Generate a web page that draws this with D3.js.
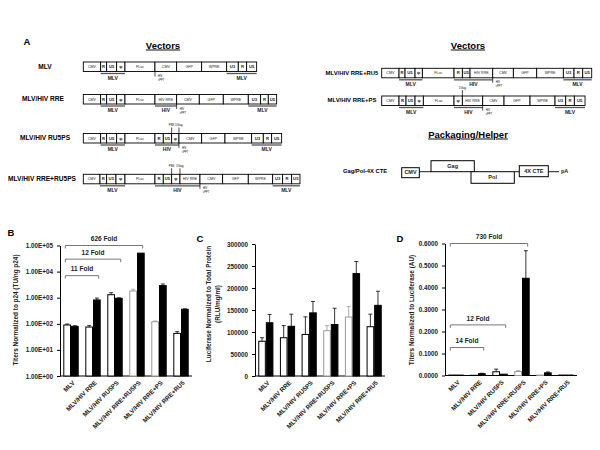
<!DOCTYPE html>
<html><head><meta charset="utf-8">
<script src="https://cdn.jsdelivr.net/npm/d3@7"></script>
<style>body{margin:0;background:#fff}svg{display:block}text{font-family:"Liberation Sans",Arial,sans-serif}</style>
</head><body>
<svg id="c" width="600" height="450"></svg>
<script>
// ---------- DATA ----------
const categories = ["MLV","MLV/HIV RRE","MLV/HIV RU5PS","MLV/HIV RRE+RU5PS","MLV/HIV RRE+PS","MLV/HIV RRE+RU5"];
// Panel B: titers normalized to p24 (log)
const bOpen     = [90, 75, 1300, 1800, 120, 43];
const bOpenErr  = [8, 10, 250, 300, 8, 7];
const bBlack    = [80, 820, 950, 51000, 2900, 360];
const bBlackErr = [4, 150, 40, 0, 450, 15];
const bTicks    = [1, 10, 100, 1000, 10000, 100000];
const bTickLabels = ["1.00E+00","1.00E+01","1.00E+02","1.00E+03","1.00E+04","1.00E+05"];
// Panel C: luciferase normalized to total protein
const cOpen     = [79000, 87000, 94500, 103000, 134000, 112000];
const cOpenErr  = [8000, 27500, 40000, 11500, 24000, 28500];
const cBlack    = [121000, 113000, 143500, 117000, 232700, 160600];
const cBlackErr = [19000, 27500, 26000, 37000, 27500, 32000];
const cTicks    = [0, 50000, 100000, 150000, 200000, 250000, 300000];
// Panel D: titers normalized to luciferase
const dOpen     = [0.002, 0.001, 0.017, 0.018, 0.002, 0.002];
const dOpenErr  = [0, 0, 0.012, 0.004, 0, 0];
const dBlack    = [0.002, 0.008, 0.006, 0.442, 0.012, 0.002];
const dBlackErr = [0, 0.002, 0, 0.125, 0.004, 0];
const dTicks    = [0, 0.1, 0.2, 0.3, 0.4, 0.5, 0.6];
// Fold brackets: [label, fromCategory, toCategory, value level]
const bFolds = [["626 Fold",0,3,100000],["12 Fold",0,2,30000],["11 Fold",0,1,7000]];
const dFolds = [["730 Fold",0,3,0.6],["12 Fold",0,2,0.23],["14 Fold",0,1,0.127]];

// Vector diagrams: segments [name, length units]
const vecMLV = [["CMV",52],["R",18],["U5",30],["ψ",25],["FLuc",90],["CMV",65],["GFP",75],["WPRE",75],["U3",35],["R",25],["U5",30]];
const vecRRE = [["CMV",52],["R",18],["U5",30],["ψ",25],["FLuc",90],["HIV RRE",65],["CMV",68],["GFP",72],["WPRE",75],["U3",37],["R",23],["U5",25]];
const vecRU5PS = [["CMV",52],["R",18],["U5",30],["ψ",25],["FLuc",90],["R",25],["U5",25],["ψ",22],["CMV",68],["GFP",70],["WPRE",80],["U3",35],["R",25],["U5",30]];
const vecRRERU5PS = [["CMV",50],["R",20],["U5",28],["ψ",27],["FLuc",90],["R",25],["U5",25],["ψ",25],["HIV RRE",60],["CMV",68],["GFP",77],["WPRE",73],["U3",30],["R",27],["U5",25]];
const vecRRERU5 = [["CMV",52],["R",18],["U5",30],["ψ",22],["FLuc",95],["R",25],["U5",23],["HIV RRE",68],["CMV",62],["GFP",70],["WPRE",80],["U3",32],["R",26],["U5",27]];
const vecRREPS = [["CMV",52],["R",21],["U5",27],["ψ",25],["FLuc",92],["ψ",25],["HIV RRE",61],["CMV",64],["GFP",78],["WPRE",75],["U3",32],["R",26],["U5",32]];
const vectorNames = ["MLV","MLV/HIV RRE","MLV/HIV RU5PS","MLV/HIV RRE+RU5PS","MLV/HIV RRE+RU5","MLV/HIV RRE+PS"];

// ---------- DRAW ----------
const svg = d3.select("#c");
const F = '"Liberation Sans",Arial,sans-serif';

function txt(g, x, y, s, size, opts={}) {
  return g.append("text").attr("x", x).attr("y", y).text(s)
    .attr("font-size", size).attr("font-weight", opts.w || "bold")
    .attr("text-anchor", opts.a || "middle").attr("dominant-baseline", "middle")
    .attr("fill", opts.c || "#000");
}

// Panel A labels
txt(svg, 27, 42, "A", 9.5);
function title(x, y, s) {
  txt(svg, x, y, s, 9.5).attr("text-decoration", "underline");
}
title(163, 46, "Vectors");
title(468, 46, "Vectors");
title(468, 135, "Packaging/Helper");

const u = d3.scaleLinear().domain([0, 3]).range([0, 1]); // units -> px

function drawVector(segs, name, x0, yTop, labelX, labelSize, cfg) {
  const g = svg.append("g");
  const h = 9.5;
  txt(g, labelX, yTop + h/2, name, labelSize);
  const bounds = [0];
  segs.forEach(s => bounds.push(bounds[bounds.length-1] + s[1]));
  const X = i => x0 + u(bounds[i]);
  segs.forEach((s, i) => {
    g.append("rect").attr("x", X(i)).attr("y", yTop).attr("width", X(i+1)-X(i)).attr("height", h)
      .attr("fill", "#fff").attr("stroke", "#000").attr("stroke-width", 0.9);
    const short = s[0].length <= 2;
    txt(g, (X(i)+X(i+1))/2, yTop + h/2 + 0.3, s[0], short ? 4.2 : 3.6, {w: short ? "bold" : "normal", c: "#222"});
  });
  (cfg.under || []).forEach(([lab, a, b]) => {
    g.append("line").attr("x1", X(a)).attr("x2", X(b+1)).attr("y1", yTop+h+2).attr("y2", yTop+h+2)
      .attr("stroke", "#555").attr("stroke-width", 1.3);
    txt(g, (X(a)+X(b+1))/2, yTop+h+7, lab, 5, {c:"#222"});
  });
  if (cfg.cppt != null) {
    const cx = X(cfg.cppt);
    g.append("line").attr("x1", cx).attr("x2", cx).attr("y1", yTop+h).attr("y2", yTop+h+5).attr("stroke", "#000").attr("stroke-width", 0.7);
    txt(g, cx+3, yTop+h+5, "HIV", 2.6, {a:"start", w:"normal"});
    txt(g, cx+3, yTop+h+9, "cPPT", 2.6, {a:"start", w:"normal"});
  }
  (cfg.above || []).forEach(([lab, i]) => {
    const cx = X(i);
    g.append("line").attr("x1", cx).attr("x2", cx).attr("y1", yTop).attr("y2", yTop-6).attr("stroke", "#000").attr("stroke-width", 0.7);
    txt(g, cx, yTop-8, lab, 2.8, {w:"normal"});
  });
}
drawVector(vecMLV, vectorNames[0], 83.3, 62, 45, 6.6, {under:[["MLV",1,3],["MLV",8,10]], cppt:5});
drawVector(vecRRE, vectorNames[1], 83.3, 94.5, 43, 6.6, {under:[["MLV",1,3],["HIV",5,5],["MLV",9,11]], cppt:6});
drawVector(vecRU5PS, vectorNames[2], 83.3, 133.5, 45, 6.6, {under:[["MLV",1,3],["HIV",5,7],["MLV",11,13]], cppt:8, above:[["PBS",7],["5'Gag",8]]});
drawVector(vecRRERU5PS, vectorNames[3], 83.3, 174.3, 42, 6.6, {under:[["MLV",1,3],["HIV",5,8],["MLV",12,14]], cppt:9, above:[["PBS",7],["5'Gag",8]]});
drawVector(vecRRERU5, vectorNames[4], 381.7, 68.3, 352, 5.9, {under:[["MLV",1,3],["HIV",5,7],["MLV",11,13]], cppt:8});
drawVector(vecRREPS, vectorNames[5], 381.7, 96, 352, 5.9, {under:[["MLV",1,3],["HIV",5,6],["MLV",10,12]], cppt:7, above:[["5'Gag",6]]});

// Helper construct
(function(){
  const g = svg.append("g");
  const yc = 171.7;
  txt(g, 365, yc, "Gag/Pol-4X CTE", 5.8);
  const boxes = [["CMV",401.7,167.7,17.6,10,5.5],["Gag",431,160.7,43.3,11,5.5],["Pol",471,171.7,43.3,11.6,5.5],["4X CTE",519.3,165.7,29,11,5.5]];
  [[419.3,431],[514.3,519.3],[548.3,559]].forEach(([a,b]) =>
    g.append("line").attr("x1",a).attr("x2",b).attr("y1",yc).attr("y2",yc).attr("stroke","#000").attr("stroke-width",0.9));
  boxes.forEach(([s,x,y,w,h,fs]) => {
    g.append("rect").attr("x",x).attr("y",y).attr("width",w).attr("height",h).attr("fill","#fff").attr("stroke","#000").attr("stroke-width",1);
    txt(g, x+w/2, y+h/2+0.3, s, fs, {c:"#222"});
  });
  txt(g, 561, yc, "pA", 5.5, {a:"start", c:"#222"});
})();

// ---------- Bar panels ----------
function panel(opt) {
  const g = svg.append("g");
  const x0 = d3.scaleBand().domain(categories).range([opt.xl, opt.xr]).paddingInner(0.3).paddingOuter(0.15);
  const x1 = d3.scaleBand().domain(["open","black"]).range([0, x0.bandwidth()]);
  const y = opt.y;
  const base = y.range()[0];
  const ax = g.append("g").attr("transform", `translate(${opt.xl},0)`)
    .call(d3.axisLeft(y).tickValues(opt.ticks).tickFormat((d,i)=>opt.labels[i]).tickSize(3).tickSizeOuter(0));
  ax.select(".domain").attr("stroke","#000");
  ax.selectAll("text").attr("font-size", 6.3).attr("font-weight","bold").attr("font-family", F).attr("fill","#222").attr("dx", -1);
  ax.selectAll("line").attr("stroke","#000");
  g.append("line").attr("x1", opt.xl).attr("x2", opt.xr).attr("y1", base).attr("y2", base).attr("stroke","#000").attr("stroke-width",1);
  const series = [["open", opt.open, opt.openErr], ["black", opt.black, opt.blackErr]];
  series.forEach(([k, vals, errs]) => {
    categories.forEach((c, i) => {
      const bx = x0(c) + x1(k), bw = x1.bandwidth() - 0.5;
      const top = y(vals[i]);
      const grayEdge = k === "open" && (i === 3 || i === 4);
      const col = grayEdge ? "#999" : "#000";
      g.append("rect").attr("x", bx + 0.5).attr("y", top).attr("width", bw - 0.5).attr("height", Math.max(0, base - top))
        .attr("fill", k === "open" ? "#fff" : "#000").attr("stroke", col).attr("stroke-width", 1);
      if (errs[i] > 0) {
        const ey = y(vals[i] + errs[i]);
        const cx = bx + bw/2 + 0.25;
        g.append("line").attr("x1", cx).attr("x2", cx).attr("y1", top).attr("y2", ey).attr("stroke", col).attr("stroke-width", 0.8);
        g.append("line").attr("x1", cx-2).attr("x2", cx+2).attr("y1", ey).attr("y2", ey).attr("stroke", col).attr("stroke-width", 0.8);
      }
    });
  });
  categories.forEach(c => {
    const cx = x0(c) + x0.bandwidth()/2 + 3;
    g.append("text").attr("transform", `translate(${cx},${base+6}) rotate(-45)`)
      .attr("text-anchor","end").attr("dominant-baseline","middle")
      .attr("font-size", 6.3).attr("font-weight","bold").attr("font-family", F).attr("fill","#222").text(c);
  });
  (opt.folds || []).forEach(([lab, a, b, v]) => {
    const xa = x0(categories[a]) + 2, xb = x0(categories[b]) + x0.bandwidth() - 2;
    const yy = y(v);
    g.append("path").attr("d", `M${xa},${yy+3}V${yy}H${xb}V${yy+3}`).attr("fill","none").attr("stroke","#777").attr("stroke-width",1);
    txt(g, (xa+xb)/2, yy-6, lab, 6.5, {c: "#222"});
  });
  txt(g, opt.letter[1], opt.letter[2], opt.letter[0], 9.5);
  opt.ylab.forEach(([s, xx]) => {
    g.append("text").attr("transform", `translate(${xx},${opt.ylabY}) rotate(-90)`)
      .attr("text-anchor","middle").attr("dominant-baseline","middle")
      .attr("font-size", 6.4).attr("font-weight","bold").attr("font-family", F).attr("fill","#222").text(s);
  });
}

panel({xl:60, xr:192, y:d3.scaleLog().domain([1,100000]).range([376,245.5]),
  ticks:bTicks, labels:bTickLabels, open:bOpen, openErr:bOpenErr, black:bBlack, blackErr:bBlackErr,
  folds:bFolds, letter:["B",11,233], ylab:[["Titers Normalized to p24 (TU/ng p24)",16]], ylabY:310});
panel({xl:255, xr:385, y:d3.scaleLinear().domain([0,300000]).range([376,244]),
  ticks:cTicks, labels:cTicks.map(String), open:cOpen, openErr:cOpenErr, black:cBlack, blackErr:cBlackErr,
  letter:["C",200,239], ylab:[["Luciferase Normalized to Total Protein",209],["(RLU/mg/ml)",218]], ylabY:304});
panel({xl:445, xr:577, y:d3.scaleLinear().domain([0,0.6]).range([375.5,243.5]),
  ticks:dTicks, labels:dTicks.map(d=>d.toFixed(4)), open:dOpen, openErr:dOpenErr, black:dBlack, blackErr:dBlackErr,
  folds:dFolds, letter:["D",400,239], ylab:[["Titers Normalized to Luciferase (AU)",412]], ylabY:310});
</script>
</body></html>
